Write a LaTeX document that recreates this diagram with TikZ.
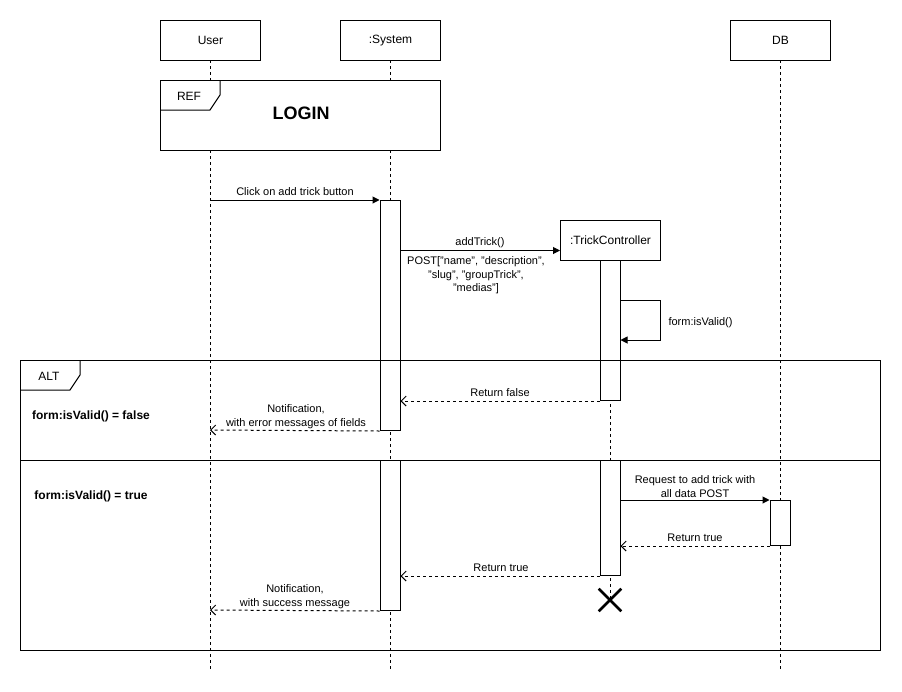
\documentclass[tikz,border=0pt]{standalone}
\usepackage{fontspec}
\setmainfont{Liberation Sans}
\usetikzlibrary{arrows.meta,shapes.misc}
\begin{document}
\begin{tikzpicture}[x=1pt,y=-1pt,line width=1pt,
  every node/.style={font=\fontsize{11}{13.5}\selectfont},
  actor/.style={draw, fill=white, minimum width=100pt, minimum height=40pt, inner sep=0pt,
    anchor=north west, font=\fontsize{12}{14}\selectfont},
  life/.style={dash pattern=on 3pt off 3pt},
  act/.style={draw, fill=white, minimum width=20pt, inner sep=0pt, anchor=north},
  msg/.style={-{Triangle[length=7pt,width=7pt]}},
  ret/.style={dash pattern=on 3pt off 3pt, -{Straight Barb[length=5pt,width=10pt]}},
  lbl/.style={align=center, inner sep=0pt},
  cond/.style={font=\bfseries\fontsize{12}{14}\selectfont, inner sep=0pt},
]
\useasboundingbox (0,0) rectangle (902,691);
\fill[white] (0,0) rectangle (902,691);

% lifelines
\draw[life] (210,60) -- (210,670);
\draw[life] (390,60) -- (390,670);
\draw[life] (780,60) -- (780,670);
\draw[life] (610,260) -- (610,600);

% participants
\node[actor] (user) at (160,20) {User};
\node[actor] (sys) at (340,20) {:System};
\node[actor] (db) at (730,20) {DB};
\node[actor] (tc) at (560,220) {:TrickController};

% reference fragment
\node[draw, fill=white, minimum width=280pt, minimum height=70pt, inner sep=0pt, anchor=north west] (ref) at (160,80) {};
\draw (160,110) -- (210,110) -- (220,95) -- (220,80);
\node[font=\fontsize{12}{14}\selectfont] (reftag) at (189,96) {REF};
\node[font=\bfseries\fontsize{18}{20}\selectfont] (login) at (301,113) {LOGIN};

% activations
\node[act, minimum height=230pt] (sysA1) at (390,200) {};
\node[act, minimum height=150pt] (sysA2) at (390,460) {};
\node[act, minimum height=140pt] (tcA1) at (610,260) {};
\node[act, minimum height=115pt] (tcA2) at (610,460) {};
\node[act, minimum height=45pt] (dbA) at (780,500) {};

% free ends on the User lifeline
\coordinate (u1) at (210,200);
\coordinate (u2) at (210,430);
\coordinate (u3) at (210,610);
\coordinate (addT) at ([yshift=-10pt]tc.west);

% messages
\draw[msg] (u1) -- (sysA1.north west);
\node[lbl] (l1) at (295,191.5) {Click on add trick button};

\draw[msg] (sysA1.east |- addT) -- (addT);
\node[lbl] (l2) at (480,242.5) {addTrick()};
\node[lbl] (l2b) at (476,275.5) {POST["name", "description",\\"slug", "groupTrick",\\"medias"]};

\coordinate (s1) at (660,300);
\coordinate (s2) at (660,340);
\draw[msg] (tcA1.east |- s1) -- (s1) -- (s2) -- (tcA1.east |- s2);
\node[lbl, anchor=west] (l3) at (668,323) {form:isValid()};

\draw[ret] (tcA1.south west) -- (sysA1.east |- tcA1.south west);
\node[lbl] (l4) at (500,392.5) {Return false};

\draw[ret] (sysA1.south west) -- (u2);
\node[lbl] (l5) at (296,416.5) {Notification,\\with error messages of fields};

\draw[msg] (tcA2.east |- dbA.north west) -- (dbA.north west);
\node[lbl] (l6) at (695,486.5) {Request to add trick with\\all data POST};

\draw[ret] (dbA.south west) -- (tcA2.east |- dbA.south west);
\node[lbl] (l7) at (695,537.5) {Return true};

\draw[ret] (tcA2.south west) -- (sysA2.east |- tcA2.south west);
\node[lbl] (l8) at (501,567.5) {Return true};

\draw[ret] (sysA2.south west) -- (u3);
\node[lbl] (l9) at (295,596.5) {Notification,\\with success message};

% destruction of the controller
\node[cross out, draw, line width=2.6pt, minimum size=20pt, inner sep=0pt] (tcEnd) at (610,600) {};

% alternative fragment
\node[draw, minimum width=860pt, minimum height=290pt, inner sep=0pt, anchor=north west] (alt) at (20,360) {};
\draw (20,390) -- (70,390) -- (80,375) -- (80,360);
\draw (alt.west |- 0,460) -- (alt.east |- 0,460);
\node[font=\fontsize{12}{14}\selectfont] (alttag) at (49,376) {ALT};
\node[cond] (c1) at (91,416) {form:isValid() = false};
\node[cond] (c2) at (91,496) {form:isValid() = true};
\end{tikzpicture}
\end{document}
